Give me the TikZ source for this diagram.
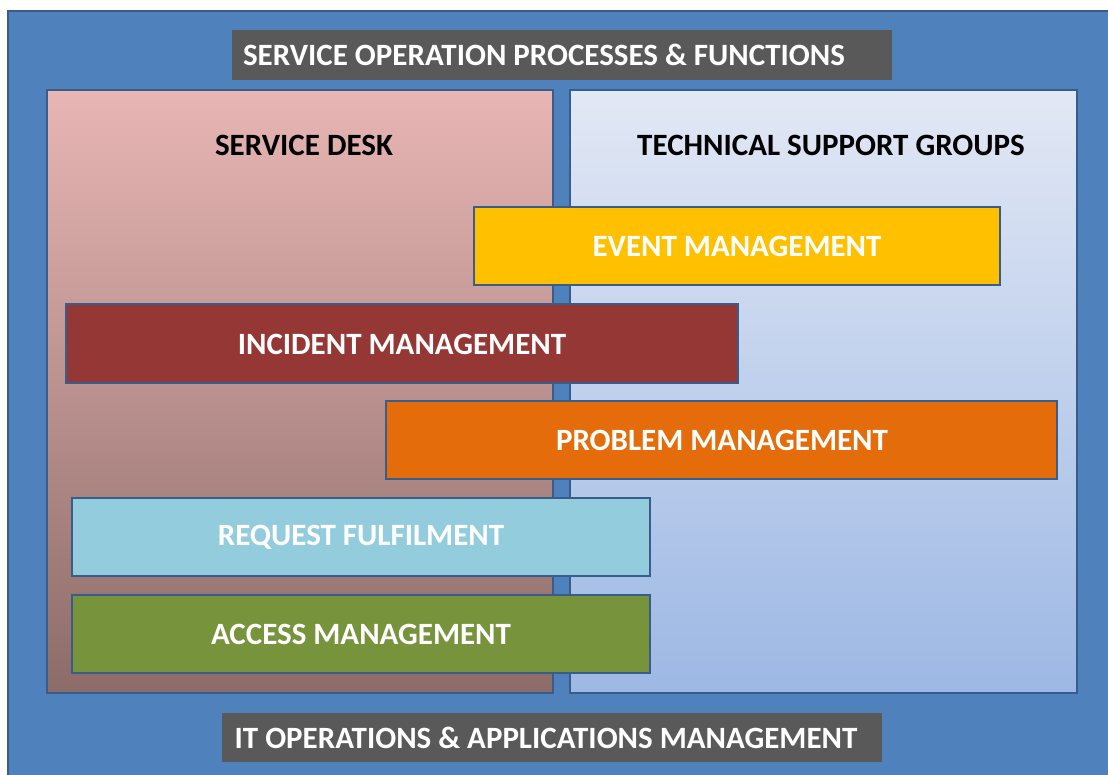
\documentclass[tikz,border=0pt]{standalone}
\usepackage{fontspec}
\setmainfont{Carlito}
\definecolor{bgblue}{RGB}{79,129,189}
\definecolor{edgeblue}{RGB}{56,93,138}
\definecolor{labgray}{RGB}{89,89,89}
\definecolor{sdtop}{RGB}{232,182,180}
\definecolor{sdbot}{RGB}{140,108,104}
\definecolor{tstop}{RGB}{226,232,245}
\definecolor{tsbot}{RGB}{157,184,228}
\definecolor{evcol}{RGB}{255,192,0}
\definecolor{incol}{RGB}{149,55,53}
\definecolor{prcol}{RGB}{228,108,10}
\definecolor{rqcol}{RGB}{147,205,221}
\definecolor{accol}{RGB}{119,147,60}
\tikzset{
  procbox/.style={draw=edgeblue, line width=2pt},
  proclabel/.style={text=white, font=\fontsize{31}{31}\selectfont\bfseries, inner sep=0pt},
  headlabel/.style={text=black, font=\fontsize{31}{31}\selectfont\bfseries, inner sep=0pt},
  graylabel/.style={text=white, font=\fontsize{31}{31}\selectfont\bfseries, inner sep=0pt},
}
\begin{document}
\begin{tikzpicture}[x=1pt,y=-1pt]
\useasboundingbox (0,0) rectangle (1108,774);
\fill[white] (0,0) rectangle (1108,774);
% outer
\draw[fill=bgblue, draw=edgeblue, line width=2pt] (8,11) rectangle (1115,780);
% gray labels
\fill[labgray] (232,30) rectangle (892,80);
\node[graylabel] (toplab) at (544,55) {SERVICE OPERATION PROCESSES \& FUNCTIONS};
\fill[labgray] (222,713) rectangle (882,762);
\node[graylabel] (botlab) at (546,738) {IT OPERATIONS \& APPLICATIONS MANAGEMENT};
% functions
\shade[top color=sdtop, bottom color=sdbot] (47,90) rectangle (553,693);
\draw[procbox] (47,90) rectangle (553,693);
\node[headlabel] (sd) at (304,145) {SERVICE DESK};
\shade[top color=tstop, bottom color=tsbot] (570,90) rectangle (1077,693);
\draw[procbox] (570,90) rectangle (1077,693);
\node[headlabel] (tsg) at (831,145) {TECHNICAL SUPPORT GROUPS};
% processes
\draw[procbox, fill=evcol] (474,207) rectangle (1000,285);
\node[proclabel] (ev) at (737,246) {EVENT MANAGEMENT};
\draw[procbox, fill=incol] (66,304) rectangle (738,383);
\node[proclabel] (inc) at (402,344) {INCIDENT MANAGEMENT};
\draw[procbox, fill=prcol] (386,401) rectangle (1057,479);
\node[proclabel] (pr) at (722,440) {PROBLEM MANAGEMENT};
\draw[procbox, fill=rqcol] (72,498) rectangle (650,576);
\node[proclabel] (rq) at (361,537) {REQUEST FULFILMENT};
\draw[procbox, fill=accol] (72,595) rectangle (650,673);
\node[proclabel] (ac) at (361,634) {ACCESS MANAGEMENT};
\end{tikzpicture}
\end{document}
